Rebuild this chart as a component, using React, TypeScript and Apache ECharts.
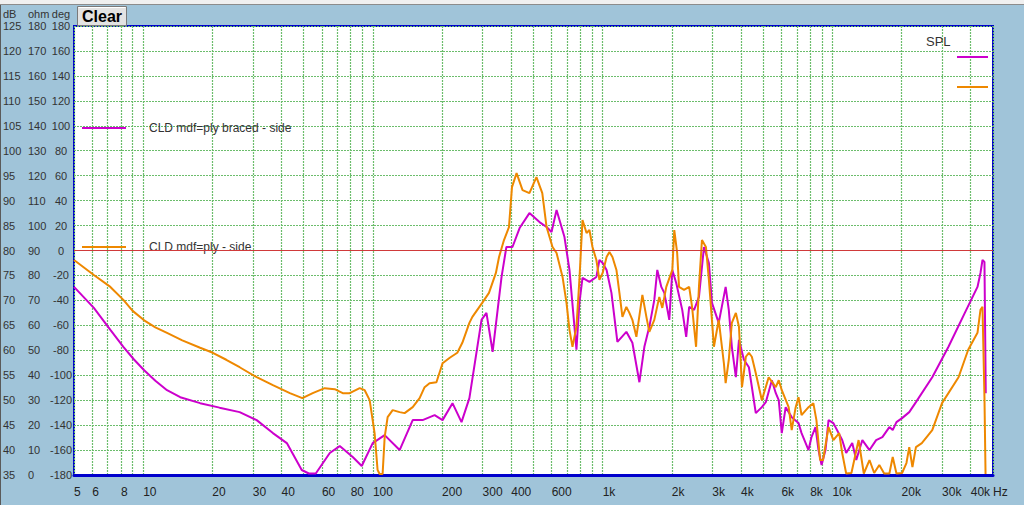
import { useEffect, useRef } from "react";
import * as echarts from "echarts";

const BRACED = "CLD mdf=ply braced - side";
const PLAIN = "CLD mdf=ply - side";

// braced panel (magenta)
const bracedFreq = [
  5, 6.1, 7.2, 8.2, 9.1, 10.1, 11.3, 12.7, 14.5, 17.7, 21.5, 26.3, 31.2, 36.7, 42.2, 49, 52.6, 56.4, 64.9, 71.7, 81.7, 89.4, 99.8,
  112.5, 130.7, 149, 164.5, 185.6, 201, 222, 243, 263, 297, 312, 332, 363, 381, 405, 435, 480, 531, 570, 599,
  630, 682, 717, 769, 792, 817, 876, 939, 968, 1000, 1040, 1092, 1159, 1268, 1347, 1445, 1519, 1596, 1678,
  1729, 1800, 1855, 1950, 2010, 2090, 2220, 2310, 2380, 2500, 2625, 2760, 2900, 2990, 3200, 3430, 3540, 3650,
  3800, 3920, 4120, 4330, 4640, 4930, 5130, 5450, 5670, 5840, 6020, 6260, 6650, 7120, 7340, 7870, 8110, 8440,
  8700, 8970, 9330, 9620, 10100, 11030, 11480, 12200, 12700, 13500, 14500, 15500, 16500, 17700, 18300, 19000,
  20100, 21600, 23100, 27200, 32000, 37700, 42800, 44100, 45000, 45900, 46300, 46500,
];
const bracedDb = [
  72.7, 68.5, 64.1, 60.7, 58.2, 56.0, 53.9, 52.0, 50.6, 49.4, 48.5, 47.6, 46.0, 43.4, 41.4, 36.0, 35.3, 35.3, 39.4, 40.8, 38.6, 36.8, 41.4,
  43.0, 40.0, 46.0, 46.0, 47.0, 46.0, 49.4, 45.6, 50.4, 66.1, 67.5, 59.7, 74.7, 80.7, 80.7, 84.5, 87.5, 85.7, 84.7, 83.7,
  88.1, 82.7, 76.1, 60.1, 69.5, 74.5, 73.7, 74.7, 78.1, 77.5, 76.1, 71.5, 61.7, 63.7, 61.5, 53.6, 60.7, 64.7, 70.1,
  76.1, 72.7, 71.5, 66.1, 76.1, 73.5, 68.1, 62.7, 68.7, 68.1, 70.7, 80.7, 77.5, 69.5, 65.5, 72.7, 68.1, 60.7,
  54.6, 62.1, 58.1, 56.6, 47.4, 48.6, 49.6, 54.0, 51.4, 50.0, 43.4, 48.6, 46.6, 45.4, 43.4, 40.0, 42.6, 44.6,
  40.0, 37.0, 40.0, 46.0, 45.4, 42.0, 39.4, 41.4, 38.0, 42.0, 40.0, 42.0, 42.6, 44.6, 44.0, 45.6,
  46.4, 47.6, 49.6, 54.6, 60.7, 67.5, 72.7, 75.5, 78.1, 77.7, 60.1, 51.4,
];

// unbraced panel (orange)
const plainFreq = [
  5, 6.1, 7.2, 8.2, 9.0, 10.1, 11.3, 12.7, 14.8, 17.7, 20.1, 23, 26.3, 31.2, 36.7, 43.5, 49.3, 54.7, 61.7, 68.2, 73.9, 79.2,
  87.6, 92.1, 96.8, 101.7, 104.8, 107, 110.2, 112.5, 115.9, 121.9, 130.7, 137.4, 149, 159.7, 167.9, 176.4, 189,
  201, 216, 233, 245, 263, 271, 299, 320, 343, 354, 372, 391, 403, 422, 448, 480, 515, 546, 570, 605, 630, 669,
  696, 717, 739, 769, 792, 817, 851, 876, 903, 939, 968, 1000, 1040, 1070, 1103, 1148, 1183, 1219, 1268, 1307,
  1347, 1402, 1489, 1550, 1596, 1678, 1764, 1818, 1892, 2010, 2050, 2110, 2150, 2260, 2380, 2450, 2550, 2625,
  2705, 2815, 2900, 3050, 3200, 3370, 3430, 3540, 3650, 3800, 3920, 4040, 4200, 4330, 4460, 4640, 4930, 5280,
  5670, 5840, 6020, 6450, 6650, 6920, 7120, 7340, 7870, 8260, 8520, 8840, 9100, 9620, 10100, 10700, 11030,
  11480, 12100, 13000, 13700, 14500, 15200, 16000, 16800, 17700, 18300, 19000, 20100, 21000, 21600, 22300,
  23100, 24500, 27200, 30000, 35400, 39000, 42800, 44100, 45000, 45900, 46400,
];
const plainDb = [
  78.1, 75.1, 72.7, 70.1, 67.9, 66.0, 64.6, 63.5, 62.0, 60.5, 59.5, 58.1, 56.6, 54.6, 53.0, 51.4, 50.4, 51.4, 52.4, 52.2, 51.4, 51.4,
  52.4, 52.0, 50.0, 43.4, 36.0, 35.2, 35.2, 42.6, 46.6, 48.0, 47.6, 47.4, 48.6, 50.4, 52.6, 53.4, 53.6,
  57.4, 58.5, 59.5, 61.5, 65.5, 66.7, 69.5, 71.5, 75.5, 78.7, 82.1, 84.7, 92.7, 95.5, 92.1, 91.5, 94.7, 91.5, 84.7, 80.7, 79.5, 74.7,
  69.5, 64.1, 60.7, 64.7, 74.1, 86.1, 83.5, 84.1, 80.7, 78.1, 74.1, 75.5, 78.7, 79.7, 78.7, 76.1, 71.5, 66.7, 68.7, 67.5,
  66.1, 62.7, 71.1, 66.7, 63.7, 66.1, 70.7, 68.5, 72.7, 76.1, 84.1, 79.5, 72.7, 72.1, 72.7, 68.7, 60.7, 72.7,
  82.1, 80.7, 74.1, 60.7, 66.1, 57.4, 53.4, 58.1, 65.5, 67.5, 64.7, 52.6, 58.7, 59.5, 58.7, 55.4, 50.0, 54.6,
  52.6, 54.0, 52.0, 48.6, 44.0, 48.6, 50.6, 47.0, 48.6, 49.4, 46.0, 38.0, 38.0, 44.6, 42.0, 43.4, 39.4,
  35.3, 35.4, 42.0, 35.3, 38.0, 35.4, 37.0, 35.3, 35.3, 38.6, 35.3, 35.4, 37.4, 40.6, 36.6,
  40.6, 41.4, 44.0, 49.4, 54.6, 60.1, 63.5, 68.1, 68.7, 50.6, 35.2,
];

// vertical grid lines and the labelled frequencies
const gridFreqs = [
  5, 6, 7, 8, 9, 10, 20, 30, 40, 50, 60, 70, 80, 90, 100, 200, 300, 400, 500, 600, 700, 800, 900,
  1000, 2000, 3000, 4000, 5000, 6000, 7000, 8000, 9000, 10000, 20000, 30000, 40000, 50000,
];
const freqLabels = [
  5, 6, 8, 10, 20, 30, 40, 60, 80, 100, 200, 300, 400, 600, 1000, 2000, 3000, 4000, 6000, 8000, 10000,
  20000, 30000, 40000, 50000,
];

const FONT = "'Liberation Sans', Arial, sans-serif";
const gridLine = { show: true, lineStyle: { color: "#6cbd6c", width: 1.2, type: [2, 1] } };

const zip = (xs: number[], ys: number[]) => xs.map((x, i) => [x, ys[i]]);

export default function App() {
  const chartRef = useRef<HTMLDivElement | null>(null);

  useEffect(() => {
    if (!chartRef.current) return;
    const chart = echarts.init(chartRef.current, null, { renderer: "svg" });

    const sideAxis = (name: string, min: number, max: number, interval: number, offset: number, align: string) => ({
      type: "value",
      gridIndex: 0,
      position: "left",
      offset,
      min,
      max,
      interval,
      name,
      nameLocation: "end",
      nameGap: 7,
      nameTextStyle: { align, color: "#333", fontSize: 11, fontFamily: FONT },
      axisLine: { show: false },
      axisTick: { show: false },
      axisLabel: { align, margin: 0, color: "#333", fontSize: 11, fontFamily: FONT },
      splitLine: { show: false },
    });

    chart.setOption({
      animation: false,
      backgroundColor: "#a0c4d9",
      textStyle: { fontFamily: FONT },
      title: {
        text: "SPL",
        left: 926,
        top: 35,
        padding: 0,
        textStyle: { fontSize: 13, fontWeight: "normal", color: "#333", fontFamily: FONT },
      },
      legend: [
        {
          data: [BRACED],
          left: 82,
          top: 122,
          padding: 0,
          icon: "rect",
          itemWidth: 44,
          itemHeight: 2,
          textStyle: { color: "#333", fontSize: 12, fontFamily: FONT, padding: [0, 0, 0, 18] },
        },
        {
          data: [PLAIN],
          left: 82,
          top: 241,
          padding: 0,
          icon: "rect",
          itemWidth: 44,
          itemHeight: 2,
          textStyle: { color: "#333", fontSize: 12, fontFamily: FONT, padding: [0, 0, 0, 18] },
        },
        {
          data: [BRACED, PLAIN],
          left: 957,
          top: 50,
          padding: 0,
          orient: "vertical",
          icon: "rect",
          itemWidth: 31,
          itemHeight: 2,
          itemGap: 16,
          formatter: () => " ",
          textStyle: { fontSize: 12, lineHeight: 14 },
        },
      ],
      grid: {
        left: 74,
        top: 26,
        right: 31,
        bottom: 30,
        show: true,
        backgroundColor: "#ffffff",
        borderColor: "#0000cc",
        borderWidth: 2,
        outerBoundsMode: "none",
      },
      xAxis: {
        type: "log",
        logBase: 10,
        min: 5,
        max: 50000,
        axisLine: { show: true, lineStyle: { color: "#0000cc", width: 3 } },
        axisTick: { show: false, customValues: gridFreqs },
        minorTick: { show: false },
        splitLine: { ...gridLine, customValues: gridFreqs },
        axisLabel: {
          customValues: freqLabels,
          align: "left",
          margin: 11,
          fontSize: 12,
          color: "#222",
          fontFamily: FONT,
          formatter: (v: number) => (v === 50000 ? "Hz" : v >= 1000 ? v / 1000 + "k" : String(v)),
        },
      },
      yAxis: [
        { ...sideAxis("dB", 35, 125, 5, 71, "left"), splitLine: gridLine },
        sideAxis("ohm", 0, 180, 10, 46, "left"),
        sideAxis("deg", -180, 180, 20, 13, "center"),
      ],
      graphic: [
        { type: "rect", shape: { x: 0, y: 0, width: 1024, height: 4 }, style: { fill: "#f0f0f0" } },
        { type: "line", shape: { x1: 0, y1: 4.5, x2: 1024, y2: 4.5 }, style: { stroke: "#8c8c8c", lineWidth: 1 } },
        { type: "line", shape: { x1: 0.5, y1: 5, x2: 0.5, y2: 505 }, style: { stroke: "#5a5a5a", lineWidth: 1 } },
        {
          type: "group",
          left: 76,
          top: 5,
          children: [
            { type: "rect", shape: { x: 0, y: 0, width: 49, height: 19 }, style: { fill: "#e3e3e3", stroke: "#7a7a7a", lineWidth: 1 } },
            { type: "line", shape: { x1: 1, y1: 1, x2: 48, y2: 1 }, style: { stroke: "#ffffff", lineWidth: 1 } },
            {
              type: "text",
              style: {
                text: "Clear",
                x: 24.5,
                y: 10,
                align: "center",
                verticalAlign: "middle",
                fill: "#000",
                fontSize: 16,
                fontWeight: "bold",
                fontFamily: FONT,
              },
            },
          ],
        },
      ],
      series: [
        {
          name: BRACED,
          type: "line",
          xAxisIndex: 0,
          yAxisIndex: 0,
          data: zip(bracedFreq, bracedDb),
          showSymbol: false,
          symbol: "none",
          clip: true,
          lineStyle: { color: "#cc00cc", width: 2 },
          itemStyle: { color: "#cc00cc" },
          markLine: {
            silent: true,
            symbol: "none",
            label: { show: false },
            lineStyle: { color: "#d03a3a", width: 1, type: "solid" },
            data: [{ yAxis: 80 }],
          },
        },
        {
          name: PLAIN,
          type: "line",
          xAxisIndex: 0,
          yAxisIndex: 0,
          data: zip(plainFreq, plainDb),
          showSymbol: false,
          symbol: "none",
          clip: true,
          lineStyle: { color: "#ee8800", width: 2 },
          itemStyle: { color: "#ee8800" },
        },
      ],
    });

    return () => {
      chart.dispose();
    };
  }, []);

  return <div ref={chartRef} style={{ position: "absolute", left: 0, top: 0, width: 1024, height: 505 }} />;
}
